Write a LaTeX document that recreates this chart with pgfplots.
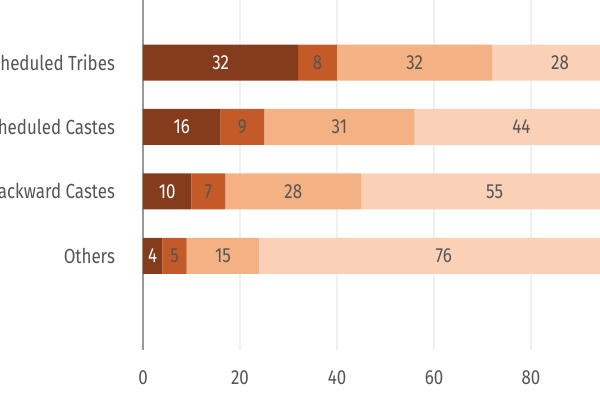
\documentclass[border=0pt]{standalone}
\usepackage{fontspec}
\setmainfont{Fira Sans}[FakeStretch=0.83]
\usepackage{pgfplots}
\pgfplotsset{compat=1.18}
\definecolor{c1}{HTML}{843C1D}
\definecolor{c2}{HTML}{C45A28}
\definecolor{c3}{HTML}{F4B183}
\definecolor{c4}{HTML}{FAD1B7}
\definecolor{txt}{HTML}{555555}
\definecolor{gridc}{HTML}{F0F0F0}
\newcommand{\lblfont}{\fontsize{10.2}{12}\selectfont}
\pgfplotsset{
  frame/.style={
    scale only axis, width=242.5pt, height=175pt,
    at={(0,0)}, anchor=south west,
    xmin=0, xmax=100, ymin=-1.46, ymax=3.97,
  },
  lbl/.style={draw=none, nodes near coords, point meta=explicit symbolic,
    nodes near coords style={anchor=center, font=\lblfont, text=#1}},
}
\begin{document}
\begin{tikzpicture}
\path[use as bounding box] (-71.5pt,-25pt) rectangle (228.5pt,175pt);
\begin{axis}[frame, xbar stacked, bar width=18pt,
  axis line style={draw=none}, major tick length=0pt,
  xtick={0,20,40,60,80,100}, xmajorgrids, grid style={gridc, line width=0.6pt},
  extra x ticks={0}, extra x tick labels={},
  extra x tick style={grid style={black!40, line width=0.6pt}},
  ytick={0,1,2,3},
  yticklabels={Others, Backward Castes, Scheduled Castes, Scheduled Tribes},
  ticklabel style={text=txt, font=\lblfont},
  /pgf/number format/assume math mode=true,
  xticklabel style={yshift=-7pt},
  yticklabel style={xshift=-10.5pt},
]
\addplot[fill=c1, draw=none] coordinates {(4,0) (10,1) (16,2) (32,3)};
\addplot[fill=c2, draw=none] coordinates {(5,0) (7,1) (9,2) (8,3)};
\addplot[fill=c3, draw=none] coordinates {(15,0) (28,1) (31,2) (32,3)};
\addplot[fill=c4, draw=none] coordinates {(76,0) (55,1) (44,2) (28,3)};
\end{axis}
\begin{axis}[frame, hide axis, clip=false]
% labels at the middle of each segment
\addplot[lbl=white] coordinates {(2,0)[4] (5,1)[10] (8,2)[16] (16,3)[32]};
\addplot[lbl=txt] coordinates {(6.5,0)[5] (13.5,1)[7] (20.5,2)[9] (36,3)[8]};
\addplot[lbl=txt] coordinates {(16.5,0)[15] (31,1)[28] (40.5,2)[31] (56,3)[32]};
\addplot[lbl=txt] coordinates {(62,0)[76] (72.5,1)[55] (78,2)[44] (86,3)[28]};
\end{axis}
\end{tikzpicture}
\end{document}
